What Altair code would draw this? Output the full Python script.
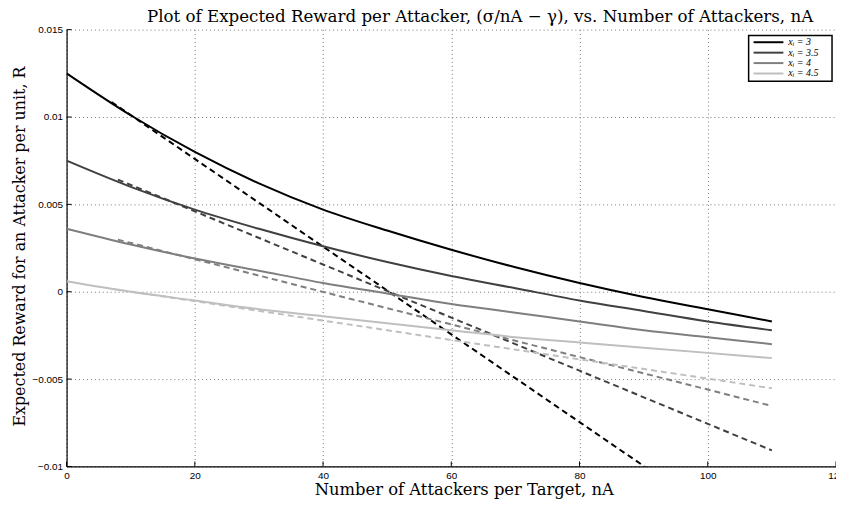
import altair as alt
import pandas as pd

# ---- data ----
n_solid = [0, 10, 20, 30, 40, 50, 60, 70, 80, 90, 100, 110]
r_solid_3 = [0.0125, 0.0101, 0.0080, 0.0062, 0.0047, 0.0035, 0.0024, 0.0014, 0.0005, -0.0003, -0.0010, -0.0017]
r_solid_35 = [0.0075, 0.0060, 0.0047, 0.0036, 0.0026, 0.0017, 0.0009, 0.0002, -0.0005, -0.0011, -0.0017, -0.0022]
r_solid_4 = [0.0036, 0.0027, 0.0019, 0.0012, 0.0005, -0.0001, -0.0007, -0.0012, -0.0017, -0.0022, -0.0026, -0.0030]
r_solid_45 = [0.0006, 0.0000, -0.0005, -0.0010, -0.0014, -0.0018, -0.0022, -0.0026, -0.0029, -0.0032, -0.0035, -0.0038]

n_dash_3 = [7, 20, 40, 60, 80, 90, 100]
r_dash_3 = [0.01086, 0.0076, 0.00258, -0.00244, -0.00746, -0.00997, -0.01248]
n_dash_35 = [8, 20, 40, 60, 80, 100, 110]
r_dash_35 = [0.00642, 0.0046, 0.00156, -0.00148, -0.00452, -0.00756, -0.00908]
n_dash_4 = [8, 20, 40, 60, 80, 100, 110]
r_dash_4 = [0.00298, 0.00186, -0.00001, -0.00187, -0.00374, -0.00560, -0.00654]
n_dash_45 = [10, 20, 40, 60, 80, 100, 110]
r_dash_45 = [0.00001, -0.00054, -0.00165, -0.00276, -0.00387, -0.00497, -0.00553]

series_labels = ["xᵢ = 3", "xᵢ = 3.5", "xᵢ = 4", "xᵢ = 4.5"]
series_colors = ["#000000", "#404040", "#7f7f7f", "#bfbfbf"]

x_ticks = [0, 20, 40, 60, 80, 100, 120]
y_ticks = [-0.01, -0.005, 0, 0.005, 0.01, 0.015]

# ---- build long tables ----
rows = []
solid = [r_solid_3, r_solid_35, r_solid_4, r_solid_45]
dash_n = [n_dash_3, n_dash_35, n_dash_4, n_dash_45]
dash_r = [r_dash_3, r_dash_35, r_dash_4, r_dash_45]
for lab, ys in zip(series_labels, solid):
    for n, r in zip(n_solid, ys):
        rows.append({"n": n, "R": r, "series": lab, "kind": "solid"})
df_solid = pd.DataFrame(rows)
rows = []
for lab, ns, ys in zip(series_labels, dash_n, dash_r):
    for n, r in zip(ns, ys):
        rows.append({"n": n, "R": r, "series": lab, "kind": "dashed"})
df_dash = pd.DataFrame(rows)

W, H = 775, 440
SERIF = "DejaVu Serif"

x_axis = alt.Axis(
    values=x_ticks, grid=True, gridDash=[1, 3], gridColor="#777777", gridWidth=1,
    domainColor="black", domainWidth=1.2, tickSize=0, labelPadding=4, labelFlush=False,
    labelFont="Liberation Sans", labelFontSize=10, labelColor="black",
    title="Number of Attackers per Target, nA", titleFont=SERIF,
    titleFontSize=16.5, titleFontWeight="normal", titleColor="black",
    titleBaseline="alphabetic", titleY=28, titleX=400, titleAlign="center",
)
y_axis = alt.Axis(
    values=y_ticks, labelExpr="format(datum.value, '.3~g')", grid=True, gridDash=[1, 3],
    gridColor="#777777", gridWidth=1,
    domainColor="black", domainWidth=1.2, tickSize=0, labelPadding=4,
    labelFont="Liberation Sans", labelFontSize=10, labelColor="black",
    title="Expected Reward for an Attacker per unit, R", titleFont=SERIF,
    titleFontSize=16, titleFontWeight="normal", titleColor="black",
    titleX=-47, titleY=H / 2 - 2, titleAlign="center", titleBaseline="middle", titleAngle=270,
)
x_scale = alt.Scale(domain=[0, 120], nice=False, zero=False)
y_scale = alt.Scale(domain=[-0.01, 0.015], nice=False, zero=False)
color_scale = alt.Scale(domain=series_labels, range=series_colors)

dashed = alt.Chart(df_dash).mark_line(strokeWidth=2, clip=True, strokeDash=[6, 4]).encode(
    x=alt.X("n:Q", scale=x_scale, axis=x_axis),
    y=alt.Y("R:Q", scale=y_scale, axis=y_axis),
    color=alt.Color("series:N", scale=color_scale, legend=None),
    order=alt.Order("n:Q"),
)
solid_lines = alt.Chart(df_solid).mark_line(strokeWidth=2, clip=True, interpolate="monotone").encode(
    x=alt.X("n:Q", scale=x_scale, axis=x_axis),
    y=alt.Y("R:Q", scale=y_scale, axis=y_axis),
    color=alt.Color("series:N", scale=color_scale, legend=None),
    order=alt.Order("n:Q"),
)

xt = alt.Chart(pd.DataFrame({"n": x_ticks})).mark_rule(color="black", strokeWidth=1).encode(
    x=alt.X("n:Q", scale=x_scale, axis=x_axis), y=alt.value(H), y2=alt.value(H - 5)
)
yt = alt.Chart(pd.DataFrame({"R": y_ticks})).mark_rule(color="black", strokeWidth=1).encode(
    y=alt.Y("R:Q", scale=y_scale, axis=y_axis), x=alt.value(0), x2=alt.value(5)
)

# ---- legend box ----
one = pd.DataFrame({"k": [0]})
box = alt.Chart(one).mark_rect(fill="white", stroke="black", strokeWidth=1.5).encode(
    x=alt.value(687), x2=alt.value(771), y=alt.value(6), y2=alt.value(52)
)
legend_layers = [box]
row_y = [12.7, 23.2, 33.7, 44.2]
for lab, col, yy in zip(series_labels, series_colors, row_y):
    d = pd.DataFrame({"label": [lab]})
    legend_layers.append(
        alt.Chart(d).mark_rule(color=col, strokeWidth=2).encode(
            x=alt.value(692), x2=alt.value(722), y=alt.value(yy)
        )
    )
    legend_layers.append(
        alt.Chart(d).mark_text(align="left", baseline="middle", font="Liberation Serif",
                               fontSize=10, fontStyle="italic", color="black").encode(
            x=alt.value(727), y=alt.value(yy), text="label:N"
        )
    )

chart = alt.layer(dashed, solid_lines, xt, yt, *legend_layers).properties(
    width=W, height=H,
    title=alt.TitleParams(
        "Plot of Expected Reward per Attacker, (σ/nA − γ), vs. Number of Attackers, nA",
        font=SERIF, fontSize=16.8, fontWeight="normal", color="black",
        anchor="start", dx=136, offset=0, dy=1,
    ),
    autosize=alt.AutoSizeParams(type="none"),
    padding={"left": 59, "top": 20, "right": 0, "bottom": 32},
).configure_view(stroke=None)

chart.save("out.html", embed_options={"renderer": "svg", "actions": False})
